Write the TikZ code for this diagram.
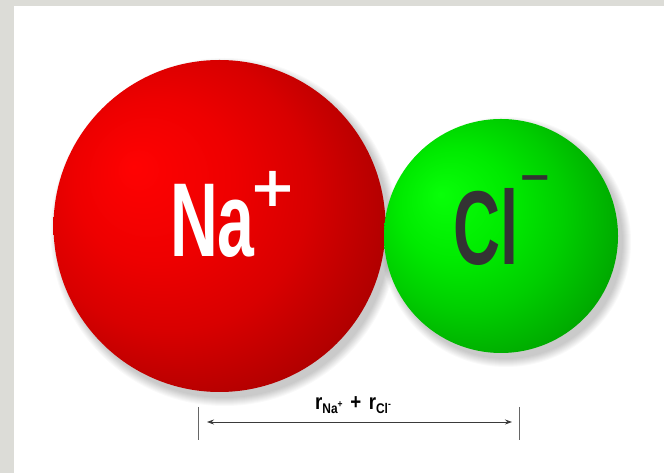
\documentclass[tikz,border=0pt]{standalone}
\usepackage{fontspec}
\setmainfont{Liberation Sans}
\newfontfamily\symfont{DejaVu Sans}
\usetikzlibrary{arrows.meta}
\definecolor{framegray}{HTML}{DCDCD7}
\definecolor{redA}{HTML}{FF0202}
\definecolor{redB}{HTML}{EE0000}
\definecolor{redC}{HTML}{D80000}
\definecolor{redE}{HTML}{B40000}
\definecolor{redD}{HTML}{860000}
\definecolor{grnA}{HTML}{08FF08}
\definecolor{grnB}{HTML}{00EA00}
\definecolor{grnC}{HTML}{00CE00}
\definecolor{grnE}{HTML}{00AC00}
\definecolor{grnD}{HTML}{007800}
\definecolor{cltext}{HTML}{333333}
\definecolor{linegray}{HTML}{3A3A3A}
\pgfdeclareradialshading{redball}{\pgfpoint{-13bp}{9bp}}{color(0bp)=(redA); color(12bp)=(redB); color(21bp)=(redC); color(30bp)=(redE); color(40bp)=(redD); color(50bp)=(redD)}
\pgfdeclareradialshading{grnball}{\pgfpoint{-13bp}{9bp}}{color(0bp)=(grnA); color(12bp)=(grnB); color(21bp)=(grnC); color(30bp)=(grnE); color(40bp)=(grnD); color(50bp)=(grnD)}
\tikzset{
  bigsym/.style={inner sep=0pt, font=\fontsize{105}{105}\selectfont\bfseries},
  chargesym/.style={inner sep=0pt},
  dimline/.style={draw=linegray, line width=0.8pt},
  ticklin/.style={draw=gray!80!black, line width=0.8pt},
}
\begin{document}
\begin{tikzpicture}[x=1pt,y=1pt]
\useasboundingbox (0,0) rectangle (664,473);
\fill[white] (0,0) rectangle (664,473);
\fill[framegray] (0,0) rectangle (14,473);
\fill[framegray] (0,467) rectangle (664,473);
% shadows
\foreach \i in {1,...,9}{
  \fill[black, opacity=0.022] (224.5,241) circle ({165+\i*1.0});
  \fill[black, opacity=0.022] (506,231) circle ({116+\i*1.0});
}
% spheres
\shade[shading=redball] (219.5,247) circle (166);
\shade[shading=grnball] (501,237) circle (117);
% labels
\node[bigsym, text=white] (na) at (212.5,252.5) {\scalebox{0.63}[1]{Na}};
\node[chargesym, text=white] (naplus) at (273,284) {\symfont\fontsize{56}{56}\selectfont\bfseries +};
\node[bigsym, text=cltext] (cl) at (486.5,246.5) {\scalebox{0.62}[1]{Cl}};
\node[chargesym, text=cltext] (clminus) at (535.5,289.5) {\symfont\fontsize{40}{40}\selectfont\bfseries −};
% dimension
\node[inner sep=0pt, font=\bfseries] (dim) at (353,68) {\scalebox{0.85}[1]{\fontsize{22}{22}\selectfont r\raisebox{-0.35ex}{\fontsize{14}{14}\selectfont Na\raisebox{0.8ex}{\fontsize{10}{10}\selectfont +}}\hspace{9pt}+\hspace{9pt}r\raisebox{-0.35ex}{\fontsize{14}{14}\selectfont Cl\raisebox{0.8ex}{\fontsize{10}{10}\selectfont -}}}};
\coordinate (aL) at (207,51);
\coordinate (aR) at (512,51);
\coordinate (tL1) at (198,66);
\coordinate (tL2) at (198,33);
\coordinate (tR1) at (519,66);
\coordinate (tR2) at (519,33);
\draw[dimline, {Stealth[length=7pt,width=5pt]}-{Stealth[length=7pt,width=5pt]}] (aL) -- (aR);
\draw[ticklin] (tL1) -- (tL2);
\draw[ticklin] (tR1) -- (tR2);
\end{tikzpicture}
\end{document}
